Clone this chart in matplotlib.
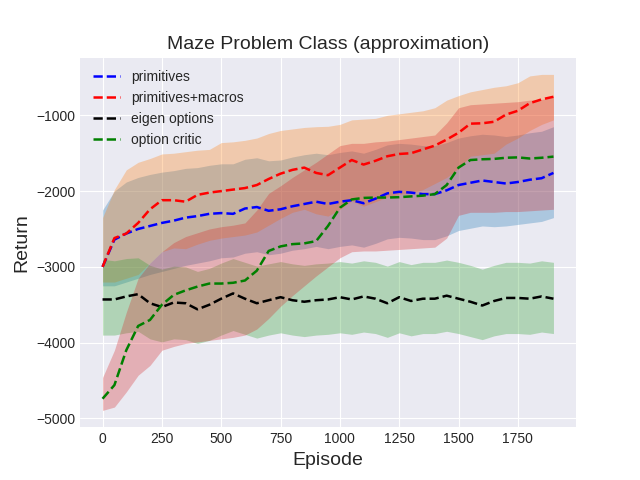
import matplotlib
matplotlib.use("Agg")
import matplotlib.pyplot as plt
import numpy as np

plt.style.use('seaborn-v0_8-darkgrid')

# episodes (every 50)
episodes = np.arange(0, 1901, 50)

# primitives
prim_mean = [-3000, -2640, -2560, -2500, -2460, -2420, -2390, -2350, -2330, -2300,
             -2290, -2300, -2230, -2210, -2260, -2240, -2200, -2170, -2140, -2170,
             -2140, -2120, -2160, -2100, -2030, -2010, -2020, -2040, -2040, -1990,
             -1920, -1890, -1860, -1880, -1900, -1880, -1850, -1830, -1760]
prim_upper = [-2250, -2000, -1880, -1820, -1780, -1750, -1730, -1700, -1690, -1660,
              -1640, -1640, -1580, -1560, -1600, -1590, -1550, -1520, -1500, -1520,
              -1490, -1470, -1500, -1450, -1390, -1370, -1380, -1400, -1400, -1360,
              -1300, -1270, -1250, -1260, -1280, -1260, -1230, -1210, -1150]
prim_lower = [-3250, -3250, -3200, -3150, -3100, -3060, -3020, -2980, -2950, -2920,
              -2880, -2870, -2820, -2800, -2840, -2820, -2780, -2760, -2730, -2760,
              -2730, -2710, -2740, -2690, -2630, -2610, -2620, -2640, -2640, -2590,
              -2520, -2490, -2460, -2470, -2460, -2440, -2420, -2400, -2350]

# primitives + macros
macro_mean = [-3000, -2620, -2560, -2420, -2240, -2120, -2120, -2140, -2050, -2020,
              -2000, -1980, -1960, -1920, -1840, -1770, -1720, -1690, -1760, -1790,
              -1690, -1590, -1650, -1600, -1540, -1510, -1500, -1450, -1400, -1320,
              -1230, -1110, -1105, -1085, -990, -940, -840, -790, -755]
macro_upper = [-2350, -1980, -1720, -1620, -1570, -1510, -1500, -1480, -1460, -1450,
               -1360, -1350, -1330, -1300, -1240, -1200, -1180, -1160, -1150, -1145,
               -1120, -1060, -1050, -1040, -1000, -980, -960, -940, -900, -800,
               -740, -690, -660, -630, -610, -570, -480, -460, -460]
macro_lower = [-3200, -3200, -3150, -3100, -2950, -2800, -2750, -2760, -2700, -2650,
               -2620, -2600, -2580, -2540, -2450, -2360, -2280, -2240, -2300, -2330,
               -2240, -2130, -2200, -2140, -2080, -2040, -2030, -1980, -1900, -1820,
               -1700, -1540, -1520, -1500, -1380, -1300, -1200, -1120, -1060]

# eigen options
eig_mean = [-3430, -3430, -3390, -3360, -3480, -3530, -3470, -3480, -3560, -3500,
            -3420, -3350, -3420, -3480, -3440, -3400, -3440, -3460, -3440, -3430,
            -3400, -3430, -3390, -3420, -3480, -3400, -3450, -3420, -3420, -3380,
            -3420, -3460, -3510, -3450, -3410, -3410, -3420, -3390, -3420]
eig_upper = [-2900, -2920, -2890, -2880, -2980, -3030, -2990, -3000, -3060, -3020,
             -2950, -2890, -2940, -2990, -2960, -2930, -2960, -2980, -2960, -2950,
             -2930, -2950, -2920, -2940, -2990, -2930, -2970, -2940, -2940, -2910,
             -2940, -2980, -3030, -2980, -2940, -2940, -2950, -2920, -2940]
eig_lower = [-3900, -3900, -3870, -3850, -3950, -3990, -3950, -3960, -4010, -3970,
             -3900, -3840, -3890, -3940, -3900, -3870, -3900, -3920, -3900, -3890,
             -3870, -3890, -3860, -3880, -3930, -3870, -3910, -3880, -3880, -3850,
             -3880, -3920, -3960, -3910, -3880, -3880, -3890, -3860, -3880]

# option critic
oc_mean = [-4740, -4560, -4100, -3780, -3700, -3500, -3370, -3310, -3260, -3220,
           -3220, -3210, -3180, -3050, -2790, -2730, -2700, -2690, -2660, -2460,
           -2220, -2110, -2090, -2085, -2085, -2080, -2070, -2060, -2040, -1920,
           -1690, -1590, -1580, -1575, -1560, -1555, -1570, -1560, -1545]
oc_upper = [-4460, -4100, -3600, -3150, -2950, -2800, -2680, -2600, -2550, -2500,
            -2470, -2450, -2420, -2250, -2030, -1930, -1820, -1720, -1620, -1510,
            -1400, -1370, -1370, -1350, -1340, -1320, -1300, -1280, -1260, -1100,
            -900, -860, -850, -840, -830, -820, -800, -790, -760]
oc_lower = [-4894, -4850, -4650, -4430, -4300, -4100, -4050, -4010, -3990, -3970,
            -3950, -3930, -3900, -3820, -3680, -3520, -3380, -3250, -3120, -3000,
            -2880, -2800, -2790, -2790, -2780, -2770, -2760, -2750, -2740, -2620,
            -2320, -2280, -2280, -2280, -2270, -2270, -2260, -2250, -2240]

fig, ax = plt.subplots(figsize=(6.4, 4.8), dpi=100)

# shaded ranges use the default colour cycle
ax.fill_between(episodes, prim_lower, prim_upper, color='C0', alpha=0.3, linewidth=0)
ax.fill_between(episodes, macro_lower, macro_upper, color='C1', alpha=0.3, linewidth=0)
ax.fill_between(episodes, eig_lower, eig_upper, color='C2', alpha=0.3, linewidth=0)
ax.fill_between(episodes, oc_lower, oc_upper, color='C3', alpha=0.3, linewidth=0)

ax.plot(episodes, prim_mean, 'b--', lw=1.8, label='primitives')
ax.plot(episodes, macro_mean, 'r--', lw=1.8, label='primitives+macros')
ax.plot(episodes, eig_mean, 'k--', lw=1.8, label='eigen options')
ax.plot(episodes, oc_mean, 'g--', lw=1.8, label='option critic')

ax.set_title('Maze Problem Class (approximation)', fontsize=14)
ax.set_xlabel('Episode', fontsize=14)
ax.set_ylabel('Return', fontsize=14)
ax.legend(loc='upper left')

plt.savefig('out.png')
